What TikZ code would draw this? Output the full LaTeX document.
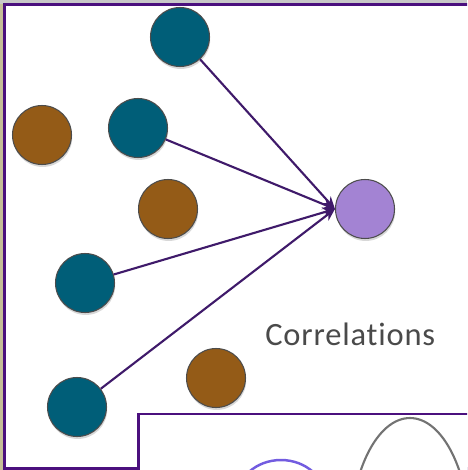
\documentclass[tikz,border=0pt]{standalone}
\usepackage{fontspec}
\setmainfont{Carlito}
\newfontfamily\labelfont[Ligatures=NoCommon, LetterSpace=2.5]{Carlito}
\usetikzlibrary{arrows.meta,shadows}
\definecolor{tealball}{HTML}{005E78}
\definecolor{brownball}{HTML}{945B17}
\definecolor{lilacball}{HTML}{A383D3}
\definecolor{framepurple}{HTML}{4B107E}
\definecolor{linkpurple}{HTML}{3F1A6A}
\definecolor{textgray}{HTML}{4A4A4A}
\definecolor{outsidegray}{HTML}{C8C8C8}
\definecolor{outsidekhaki}{HTML}{C6BE98}

\begin{document}
\begin{tikzpicture}[x=0.02cm, y=-0.02cm,
    ball/.style={circle, draw=black!70, line width=0.6pt, minimum size=1.18cm,
      inner sep=0pt, drop shadow={shadow xshift=0.4pt, shadow yshift=-1.4pt, opacity=0.3}},
    frame/.style={draw=framepurple, line width=1.7pt, fill=white},
    link/.style={draw=linkpurple, line width=1.2pt, -{Stealth[length=7pt,width=6pt]}}]
    \clip (0,0) rectangle (467,470);
    \fill [outsidegray] (0,0) rectangle (467,470);
    \fill [outsidekhaki] (0,4) rectangle (4,470);
    \draw [frame] (4.5,4.5) rectangle (490,468.5);
    \draw [frame] (138.5,414) rectangle (490,490);
    \draw [draw=black!55, line width=1.2pt] (410,540) ellipse [x radius=1.2cm, y radius=2.44cm];
    \draw [draw=lilacball!70!blue, line width=1.4pt] (281,500) ellipse [x radius=0.9cm, y radius=0.8cm];
    \node [ball, fill=tealball] (1) at (180,37) {};
    \node [ball, fill=brownball] (2) at (42,135) {};
    \node [ball, fill=tealball] (3) at (138,128) {};
    \node [ball, fill=brownball] (4) at (168,209) {};
    \node [ball, fill=tealball] (5) at (85,283) {};
    \node [ball, fill=tealball] (6) at (77,407) {};
    \node [ball, fill=brownball] (7) at (216,378) {};
    \node [ball, fill=lilacball] (8) at (365,209) {};
    \node [anchor=base west, inner sep=0pt, text=textgray, font=\labelfont\fontsize{18.5}{20}\selectfont]
      (9) at (265,345) {Correlations};
    \draw [link] (1) -- (8.west);
    \draw [link] (3) -- (8.west);
    \draw [link] (5) -- (8.west);
    \draw [link] (6) -- (8.west);
\end{tikzpicture}
\end{document}
